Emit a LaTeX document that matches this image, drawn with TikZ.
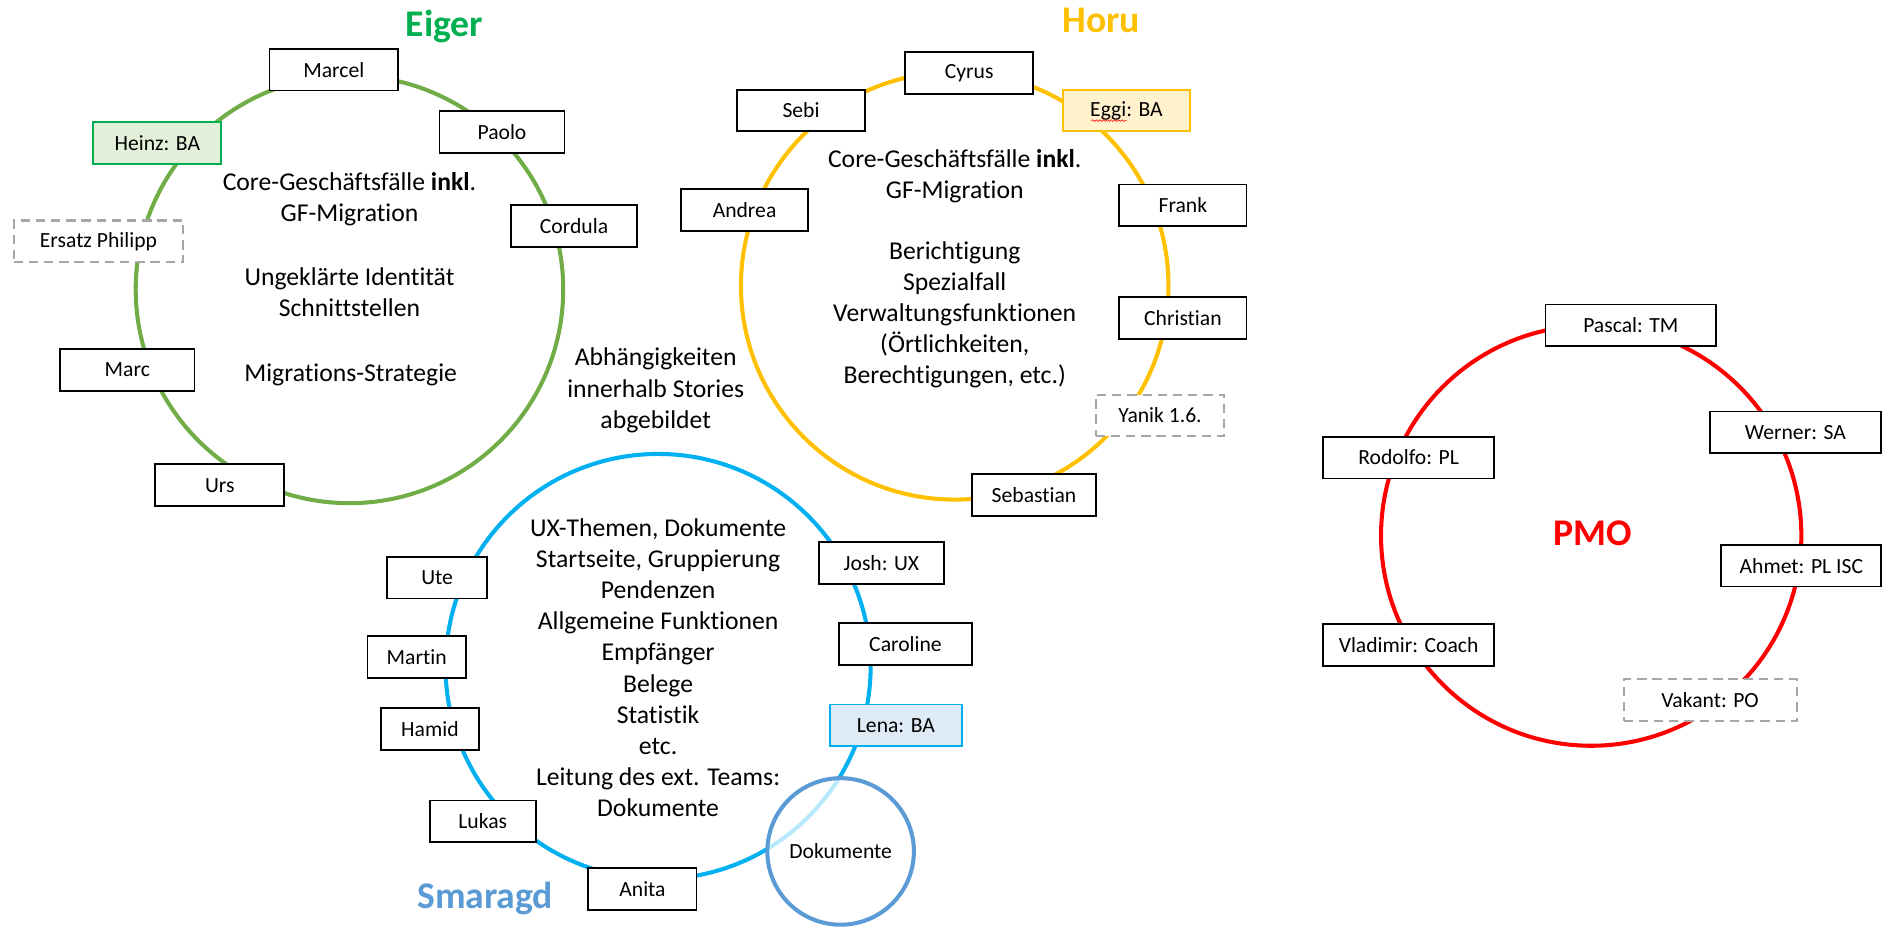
\documentclass[tikz,border=0pt]{standalone}
\usepackage{fontspec}
\setmainfont{Carlito}[Ligatures={NoCommon,NoContextual}]
\usetikzlibrary{decorations.pathmorphing,calc}
\definecolor{eigergreen}{HTML}{70AD47}
\definecolor{heinzgreen}{HTML}{00B050}
\definecolor{heinzfill}{HTML}{E2F0D9}
\definecolor{horuyellow}{HTML}{FFC000}
\definecolor{eggifill}{HTML}{FFF2CC}
\definecolor{smcyan}{HTML}{00B0F0}
\definecolor{lenafill}{HTML}{DEEBF7}
\definecolor{smblue}{HTML}{5B9BD5}
\definecolor{dashgray}{HTML}{A6A6A6}
\definecolor{pmored}{HTML}{FF0000}
\begin{document}
\begin{tikzpicture}[x=0.025cm,y=-0.025cm,
  person/.style={draw=black,line width=1.1pt,fill=white,minimum height=0.87cm,inner sep=0pt,font=\fontsize{12.8}{14}\selectfont},
  vacant/.style={person,draw=dashgray,line width=1.2pt,dash pattern=on 5.5pt off 3.5pt},
  ring/.style={line width=2.4pt},
  body/.style={align=center,font=\fontsize{15.2}{18.4}\selectfont},
  title/.style={font=\fontsize{22.3}{26}\selectfont\bfseries}]
\useasboundingbox (0,0) rectangle (1568,772);

% rings
\draw[ring,eigergreen] (291,241) circle[radius=178];
\draw[ring,horuyellow] (795,238) circle[radius=178];
\draw[ring,smcyan] (548,555) circle[radius=177];
\draw[ring,pmored] (1325,446) circle[radius=175];

% titles
\node[title,text=heinzgreen] (teiger) at (370,22) {Eiger};
\node[title,text=horuyellow] (thoru) at (917,17) {Horu};
\node[title,text=smblue] (tsmaragd) at (404,748) {Smaragd};
\node[title,text=pmored] (tpmo) at (1326,444) {PMO};

% Eiger
\node[person,minimum width=2.68cm] (marcel) at (278,58) {Marcel};
\node[person,minimum width=2.6cm] (paolo) at (418,110) {Paolo};
\node[person,minimum width=2.66cm,draw=heinzgreen,fill=heinzfill] (heinz) at (131,119) {Heinz: BA};
\node[person,minimum width=2.63cm] (cordula) at (478,188) {Cordula};
\node[vacant,minimum width=3.53cm] (ersatz) at (82,201) {Ersatz Philipp};
\node[person,minimum width=2.8cm] (marc) at (106,308) {Marc};
\node[person,minimum width=2.68cm] (urs) at (183,404) {Urs};
\node[body] (eigera) at (291,166) {Core-Geschäftsfälle \textbf{inkl}.\\GF-Migration};
\node[body] (eigerb) at (291,243) {Ungeklärte Identität\\Schnittstellen};
\node[body] (eigerc) at (292,312) {Migrations-Strategie};

% Horu
\node[person,minimum width=2.66cm] (cyrus) at (807,61) {Cyrus};
\node[person,minimum width=2.65cm] (sebi) at (667,92) {Sebi};
\node[person,minimum width=2.65cm,draw=horuyellow,fill=eggifill] (eggi) at (938,92) {Eggi: BA};
\draw[red,line width=0.35pt,decorate,decoration={snake,amplitude=0.5pt,segment length=2.2pt}]
  ($(eggi.center)+(-0.73cm,-0.21cm)$) -- ($(eggi.center)+(0.01cm,-0.21cm)$);
\node[person,minimum width=2.65cm] (andrea) at (620,175) {Andrea};
\node[person,minimum width=2.65cm] (frank) at (985,171) {Frank};
\node[person,minimum width=2.65cm] (christian) at (985,265) {Christian};
\node[vacant,minimum width=2.68cm] (yanik) at (966,346) {Yanik 1.6.};
\node[person,minimum width=2.58cm] (sebastian) at (861,412) {Sebastian};
\node[body] (horua) at (795,147) {Core-Geschäftsfälle \textbf{inkl}.\\GF-Migration};
\node[body] (horub) at (795,262) {Berichtigung\\Spezialfall\\Verwaltungsfunktionen\\(Örtlichkeiten,\\Berechtigungen, etc.)};

% middle text
\node[body] (abh) at (546,325) {Abhängigkeiten\\innerhalb Stories\\abgebildet};

% Smaragd
\node[circle,draw=smblue,line width=2.4pt,fill=white,fill opacity=0.72,text opacity=1,minimum size=3.05cm,inner sep=0pt,font=\fontsize{12.8}{14}\selectfont] (doku) at (700,709) {Dokumente};
\node[person,minimum width=2.6cm] (josh) at (734,469) {Josh: UX};
\node[person,minimum width=2.08cm] (ute) at (364,481) {Ute};
\node[person,minimum width=2.78cm] (caroline) at (754,536) {Caroline};
\node[person,minimum width=2.05cm] (martin) at (347,547) {Martin};
\node[person,minimum width=2.75cm,draw=smcyan,fill=lenafill] (lena) at (746,604) {Lena: BA};
\node[person,minimum width=2.03cm] (hamid) at (358,607) {Hamid};
\node[person,minimum width=2.2cm] (lukas) at (402,684) {Lukas};
\node[person,minimum width=2.25cm] (anita) at (535,740) {Anita};
\node[body] (smtext) at (548,556) {UX-Themen, Dokumente\\Startseite, Gruppierung\\Pendenzen\\Allgemeine Funktionen\\Empfänger\\Belege\\Statistik\\etc.\\Leitung des ext. Teams:\\Dokumente};

% PMO
\node[person,minimum width=3.55cm] (pascal) at (1358,271) {Pascal: TM};
\node[person,minimum width=3.55cm] (werner) at (1495,360) {Werner: SA};
\node[person,minimum width=3.55cm] (rodolfo) at (1173,381) {Rodolfo: PL};
\node[person,minimum width=3.33cm] (ahmet) at (1500,471) {Ahmet: PL ISC};
\node[person,minimum width=3.55cm] (vladimir) at (1173,537) {Vladimir: Coach};
\node[vacant,minimum width=3.6cm] (vakant) at (1424,583) {Vakant: PO};
\end{tikzpicture}
\end{document}
